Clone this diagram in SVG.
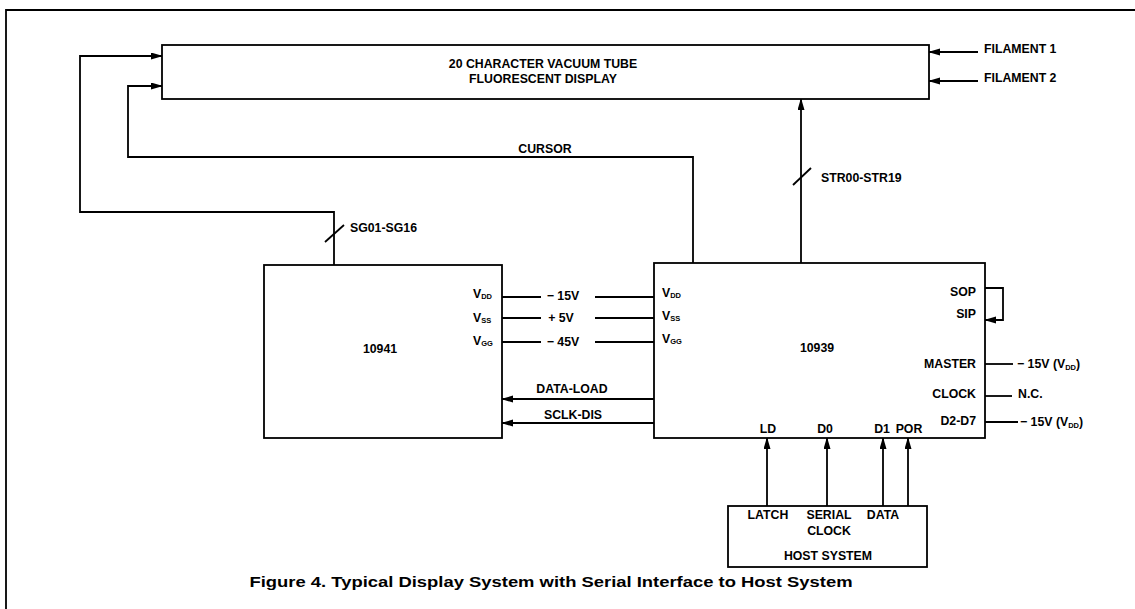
<svg xmlns="http://www.w3.org/2000/svg" width="1135" height="609" viewBox="0 0 1135 609">
<style>
  text { font-family: "Liberation Sans", Arial, Helvetica, sans-serif; font-weight: bold; font-size: 12.3px; fill: #000; }
  .cap { font-size: 15.5px; }
  .sub { font-size: 7.5px; }
  .box { fill: #fff; stroke: #000; stroke-width: 1.8; }
  .ln { fill: none; stroke: #000; stroke-width: 1.8; }
  .arr { fill: none; stroke: #000; stroke-width: 1.8; marker-end: url(#ah); }
  .mid { text-anchor: middle; }
  .end { text-anchor: end; }
</style>
<defs>
  <marker id="ah" markerUnits="userSpaceOnUse" markerWidth="12" markerHeight="8" refX="11" refY="3.5" orient="auto">
    <path d="M0,0 L12,3.5 L0,7 z" fill="#000"/>
  </marker>
</defs>
<rect width="1135" height="609" fill="#fff"/>

<!-- outer frame -->
<path class="ln" d="M6,609 V10 H1135" stroke-width="2.2"/>

<!-- connectors -->
<g id="connectors">
  <path class="arr" d="M334,265 V212 H80 V56 H162"/>
  <path class="ln" d="M325,242 L344,225"/>
  <path class="arr" d="M693,263 V157 H128 V86 H162"/>
  <path class="arr" d="M801,263 V99"/>
  <path class="ln" d="M793,185 L811,168"/>
  <path class="arr" d="M978,52 H929"/>
  <path class="arr" d="M978,81 H929"/>
  <path class="ln" d="M502,297 H541 M595,297 H654"/>
  <path class="ln" d="M502,318 H541 M595,318 H654"/>
  <path class="ln" d="M502,342 H541 M595,342 H654"/>
  <path class="arr" d="M654,399 H502"/>
  <path class="arr" d="M654,423 H502"/>
  <path class="arr" d="M985,288 H1003 V320 H985"/>
  <path class="ln" d="M985,364 H1013"/>
  <path class="ln" d="M985,396 H1012"/>
  <path class="ln" d="M985,422 H1018"/>
  <path class="arr" d="M767,506 V438"/>
  <path class="arr" d="M827,506 V438"/>
  <path class="arr" d="M883,506 V438"/>
  <path class="arr" d="M908,506 V438"/>
</g>

<!-- connector labels -->
<g id="connector-labels">
  <text x="350" y="232">SG01-SG16</text>
  <text x="545" y="153" class="mid">CURSOR</text>
  <text x="821" y="182">STR00-STR19</text>
  <text x="984" y="53">FILAMENT 1</text>
  <text x="984" y="82">FILAMENT 2</text>
  <text x="563" y="300" class="mid">− 15V</text>
  <text x="561" y="322" class="mid">+ 5V</text>
  <text x="563" y="346" class="mid">− 45V</text>
  <text x="572" y="393" class="mid">DATA-LOAD</text>
  <text x="573" y="419" class="mid">SCLK-DIS</text>
  <text x="1017" y="368">− 15V (V<tspan class="sub" dy="2">DD</tspan><tspan dy="-2">)</tspan></text>
  <text x="1018" y="398">N.C.</text>
  <text x="1020" y="426">− 15V (V<tspan class="sub" dy="2">DD</tspan><tspan dy="-2">)</tspan></text>
</g>

<!-- display -->
<g id="display">
  <rect class="box" x="162" y="45" width="767" height="54"/>
  <text x="543" y="68" class="mid">20 CHARACTER VACUUM TUBE</text>
  <text x="543" y="83" class="mid">FLUORESCENT DISPLAY</text>
</g>

<!-- 10941 -->
<g id="chip10941">
  <rect class="box" x="264" y="265" width="238" height="173"/>
  <text x="380" y="353" class="mid">10941</text>
  <text x="473" y="298">V<tspan class="sub" dy="1">DD</tspan></text>
  <text x="473" y="322">V<tspan class="sub" dy="1">SS</tspan></text>
  <text x="473" y="345">V<tspan class="sub" dy="1">GG</tspan></text>
</g>

<!-- 10939 -->
<g id="chip10939">
  <rect class="box" x="654" y="263" width="331" height="175"/>
  <text x="817" y="352" class="mid">10939</text>
  <text x="662" y="297">V<tspan class="sub" dy="1">DD</tspan></text>
  <text x="662" y="320">V<tspan class="sub" dy="1">SS</tspan></text>
  <text x="662" y="343">V<tspan class="sub" dy="1">GG</tspan></text>
  <text x="976" y="296" class="end">SOP</text>
  <text x="976" y="318" class="end">SIP</text>
  <text x="976" y="368" class="end">MASTER</text>
  <text x="976" y="398" class="end">CLOCK</text>
  <text x="976" y="425" class="end">D2-D7</text>
  <text x="768" y="433" class="mid">LD</text>
  <text x="825" y="433" class="mid">D0</text>
  <text x="882" y="433" class="mid">D1</text>
  <text x="909" y="433" class="mid">POR</text>
</g>

<!-- host -->
<g id="host">
  <rect class="box" x="728" y="506" width="199" height="61"/>
  <text x="768" y="519" class="mid">LATCH</text>
  <text x="829" y="519" class="mid">SERIAL</text>
  <text x="829" y="535" class="mid">CLOCK</text>
  <text x="883" y="519" class="mid">DATA</text>
  <text x="828" y="560" class="mid">HOST SYSTEM</text>
</g>

<text x="551" y="587" class="cap mid" textLength="603" lengthAdjust="spacingAndGlyphs">Figure 4. Typical Display System with Serial Interface to Host System</text>
</svg>
